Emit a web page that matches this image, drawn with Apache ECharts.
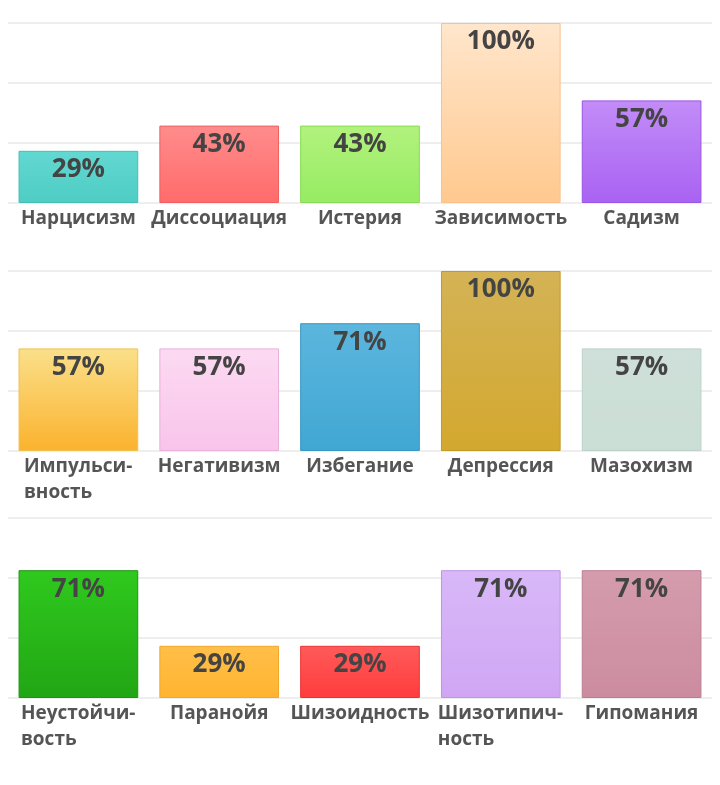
<!DOCTYPE html>
<html>
<head>
<meta charset="utf-8">
<script src="https://cdn.jsdelivr.net/npm/echarts@6/dist/echarts.min.js"></script>
<style>
  html, body { margin: 0; padding: 0; background: #fff; }
  #chart { width: 720px; height: 785px; }
</style>
</head>
<body>
<div id="chart"></div>
<script>
const names1 = ['Нарцисизм', 'Диссоциация', 'Истерия', 'Зависимость', 'Садизм'];
const values1 = [29, 43, 43, 100, 57];
const names2 = ['Импульси-\nвность', 'Негативизм', 'Избегание', 'Депрессия', 'Мазохизм'];
const values2 = [57, 57, 71, 100, 57];
const names3 = ['Неустойчи-\nвость', 'Паранойя', 'Шизоидность', 'Шизотипич-\nность', 'Гипомания'];
const values3 = [71, 29, 29, 71, 71];

// [top, bottom, border]
const colors1 = [
  ['#62d8d1', '#4ecdc4', '#45bdb4'],
  ['#ff8c8c', '#ff6b6b', '#f06060'],
  ['#b2f27e', '#96ec62', '#88dc55'],
  ['#ffe6cc', '#ffc98f', '#f8c290'],
  ['#c28cf8', '#a962f2', '#9a55e4']
];
const colors2 = [
  ['#fae08a', '#fbb22e', '#f0c050'],
  ['#fcdaf2', '#f9c4eb', '#eab0da'],
  ['#5cb6dd', '#40a7d3', '#3898c2'],
  ['#d4b356', '#d3a82f', '#c29a2a'],
  ['#cee0d9', '#cbded5', '#bcd2c8']
];
const colors3 = [
  ['#2fc91e', '#22a614', '#1e9412'],
  ['#ffbf4a', '#ffb430', '#f0a828'],
  ['#ff5a5a', '#ff3c3c', '#ea3434'],
  ['#d8b8f8', '#d0a6f4', '#be94e4'],
  ['#d49cac', '#cc8ca0', '#bc7e92']
];

const chart = echarts.init(document.getElementById('chart'));

const labelFont = 'bold 19px "Open Sans"';
const measureCtx = document.createElement('canvas').getContext('2d');
measureCtx.font = labelFont;

function makeData(values, colors) {
  return values.map((v, i) => ({
    value: v,
    itemStyle: {
      color: new echarts.graphic.LinearGradient(0, 0, 0, 1, [
        { offset: 0, color: colors[i][0] },
        { offset: 1, color: colors[i][1] }
      ]),
      borderColor: colors[i][2],
      borderWidth: 1
    }
  }));
}

// multi-line labels are left aligned inside a centred block
function makeRich(names) {
  const rich = {};
  names.forEach((n, i) => {
    const w = Math.max(...n.split('\n').map(l => measureCtx.measureText(l).width));
    rich['w' + i] = {
      width: Math.ceil(w),
      align: 'left',
      fontSize: 19,
      fontWeight: 'bold',
      color: '#555555',
      lineHeight: 26,
      fontFamily: 'Open Sans'
    };
  });
  return rich;
}

const tops = [23, 271, 518];
const allNames = [names1, names2, names3];
const allValues = [values1, values2, values3];
const allColors = [colors1, colors2, colors3];

const option = {
  animation: false,
  textStyle: { fontFamily: 'Open Sans' },
  grid: tops.map(t => ({ left: 8, right: 8, top: t, height: 180 })),
  xAxis: allNames.map((n, i) => ({
    type: 'category',
    gridIndex: i,
    data: n,
    axisLine: { show: true, lineStyle: { color: '#eeeeee' } },
    axisTick: { show: false },
    axisLabel: {
      interval: 0,
      margin: 3,
      fontSize: 19,
      fontWeight: 'bold',
      color: '#555555',
      lineHeight: 26,
      fontFamily: 'Open Sans',
      formatter: (value, idx) => {
        if (value.indexOf('\n') < 0) return value;
        return value.split('\n').map(l => '{w' + idx + '|' + l + '}').join('\n');
      },
      rich: makeRich(n)
    }
  })),
  yAxis: allNames.map((n, i) => ({
    type: 'value',
    gridIndex: i,
    min: 0,
    max: 100,
    interval: 100 / 3,
    axisLabel: { show: false },
    axisLine: { show: false },
    axisTick: { show: false },
    splitLine: { lineStyle: { color: '#e8e8e8', width: 1.5 } }
  })),
  series: allValues.map((vals, i) => ({
    type: 'bar',
    xAxisIndex: i,
    yAxisIndex: i,
    barCategoryGap: '15%',
    data: makeData(vals, allColors[i]),
    label: {
      show: true,
      position: 'insideTop',
      distance: 6,
      formatter: '{c}%',
      fontSize: 26,
      fontWeight: 'bold',
      color: '#444444',
      fontFamily: 'Open Sans'
    }
  }))
};

chart.setOption(option);
</script>
</body>
</html>
